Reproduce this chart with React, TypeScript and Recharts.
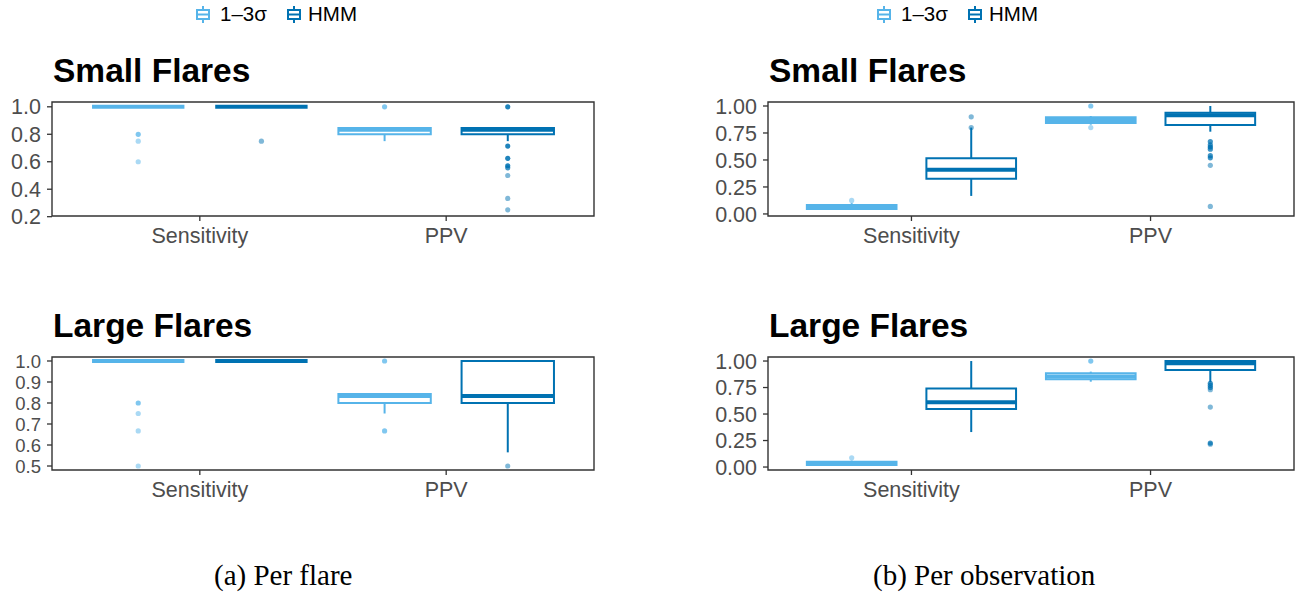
import React from "react";
import {
  ComposedChart,
  XAxis,
  YAxis,
  Scatter,
  ReferenceArea,
  ReferenceLine,
} from "recharts";

const categories = ["Sensitivity", "PPV"];
const methods = ["1–3σ", "HMM"];
const colors = ["#56B4E9", "#0072B2"];

// five-number summaries [min, q1, median, q3, max], one per category
const flareSmallSigma = [[1, 1, 1, 1, 1], [0.75, 0.8, 0.833, 0.846, 0.846]];
const flareSmallHmm = [[1, 1, 1, 1, 1], [0.75, 0.8, 0.833, 0.846, 0.846]];
// outliers as [value, count]
const flareSmallSigmaOut = [[[0.8, 2], [0.75, 1], [0.6, 1]], [[1, 2]]];
const flareSmallHmmOut = [
  [[0.75, 1]],
  [[1, 3], [0.714, 3], [0.625, 3], [0.571, 3], [0.556, 2], [0.5, 1], [0.333, 1], [0.25, 1]],
];

const flareLargeSigma = [[1, 1, 1, 1, 1], [0.75, 0.8, 0.833, 0.843, 0.843]];
const flareLargeHmm = [[1, 1, 1, 1, 1], [0.565, 0.8, 0.833, 1, 1]];
const flareLargeSigmaOut = [[[0.8, 2], [0.75, 1], [0.667, 1], [0.5, 1]], [[1, 2], [0.667, 2]]];
const flareLargeHmmOut = [[], [[0.5, 1]]];

const obsSmallSigma = [[0.04, 0.045, 0.065, 0.083, 0.1], [0.827, 0.843, 0.87, 0.895, 0.907]];
const obsSmallHmm = [[0.167, 0.327, 0.41, 0.516, 0.8], [0.762, 0.824, 0.914, 0.938, 1]];
const obsSmallSigmaOut = [[[0.125, 1]], [[1, 2], [0.8, 1]]];
const obsSmallHmmOut = [
  [[0.9, 1], [0.8, 1]],
  [[0.67, 2], [0.64, 2], [0.62, 3], [0.6, 2], [0.54, 2], [0.52, 2], [0.45, 1], [0.07, 1]],
];

const obsLargeSigma = [[0.012, 0.02, 0.035, 0.05, 0.06], [0.805, 0.827, 0.855, 0.884, 0.9]];
const obsLargeHmm = [[0.33, 0.547, 0.61, 0.742, 1], [0.8, 0.915, 0.98, 1, 1]];
const obsLargeSigmaOut = [[[0.087, 1]], [[1, 2]]];
const obsLargeHmmOut = [
  [],
  [[0.79, 2], [0.77, 2], [0.75, 2], [0.73, 1], [0.566, 1], [0.226, 2], [0.215, 1]],
];

const flareSmallTicks = [0.2, 0.4, 0.6, 0.8, 1.0];
const flareLargeTicks = [0.5, 0.6, 0.7, 0.8, 0.9, 1.0];
const obsTicks = [0, 0.25, 0.5, 0.75, 1];

const FONT = '"Liberation Sans", Arial, Helvetica, sans-serif';
const DODGE = [-0.25, 0.25];
const HALF = 0.1875;
const X_DOMAIN: [number, number] = [0.4, 2.6];

function BoxPanel({ sigma, hmm, sigmaOut, hmmOut, domain, ticks, digits, left, top, yWidth, mb, yFont = 21.5 }: any) {
  const stats = [sigma, hmm];
  const outs = [sigmaOut, hmmOut];
  const marks: any[] = [];
  stats.forEach((series: number[][], m: number) =>
    series.forEach((s, c) => {
      const cx = c + 1 + DODGE[m];
      const [lo, q1, med, q3, hi] = s;
      const k = `${m}-${c}`;
      marks.push(
        <ReferenceLine key={`wl${k}`} segment={[{ x: cx, y: lo }, { x: cx, y: q1 }]} stroke={colors[m]} strokeWidth={2} />,
        <ReferenceLine key={`wh${k}`} segment={[{ x: cx, y: q3 }, { x: cx, y: hi }]} stroke={colors[m]} strokeWidth={2} />,
        <ReferenceArea key={`b${k}`} x1={cx - HALF} x2={cx + HALF} y1={q1} y2={q3} fill="#ffffff" fillOpacity={1} stroke={colors[m]} strokeWidth={2} />,
        <ReferenceLine key={`m${k}`} segment={[{ x: cx - HALF, y: med }, { x: cx + HALF, y: med }]} stroke={colors[m]} strokeWidth={4} />
      );
    })
  );
  const tick = { fontSize: 21.5, fill: "#4D4D4D", fontFamily: FONT };
  return (
    <div style={{ position: "absolute", left, top }}>
      <ComposedChart width={620} height={170} margin={{ top: 12, right: 26, bottom: mb, left: 0 }}>
        <XAxis
          type="number"
          dataKey="x"
          domain={X_DOMAIN}
          ticks={[1, 2]}
          interval={0}
          allowDataOverflow
          tickFormatter={(v: number) => categories[v - 1]}
          axisLine={false}
          tickLine={{ stroke: "#333333", strokeWidth: 1.3 }}
          tickSize={5}
          tickMargin={7}
          height={30}
          tick={tick}
        />
        <YAxis
          type="number"
          dataKey="y"
          domain={domain}
          ticks={ticks}
          interval={0}
          allowDataOverflow
          tickFormatter={(v: number) => v.toFixed(digits)}
          axisLine={false}
          tickLine={{ stroke: "#333333", strokeWidth: 1.3 }}
          tickSize={5}
          tickMargin={6}
          width={yWidth}
          tick={{ ...tick, fontSize: yFont }}
        />
        {marks}
        {outs.map((series: number[][][], m: number) => (
          <Scatter
            key={`o${m}`}
            name={methods[m]}
            data={series.flatMap((list, c) => list.map(([v, n]) => ({ x: c + 1 + DODGE[m], y: v, n })))}
            isAnimationActive={false}
            shape={(p: any) => (
              <circle cx={p.cx} cy={p.cy} r={2.6} fill={colors[m]} fillOpacity={1 - Math.pow(0.5, p.payload.n)} />
            )}
          />
        ))}
        <ReferenceArea
          x1={X_DOMAIN[0]}
          x2={X_DOMAIN[1]}
          y1={domain[0]}
          y2={domain[1]}
          fill="none"
          stroke="#333333"
          strokeWidth={1.4}
        />
      </ComposedChart>
    </div>
  );
}

function LegendKey({ x, color }: { x: number; color: string }) {
  const c = x + 7;
  return (
    <g stroke={color} strokeWidth={2} fill="#ffffff">
      <line x1={c} x2={c} y1={6} y2={10} />
      <rect x={x + 1} y={10} width={12} height={9} />
      <line x1={x + 1} x2={x + 13} y1={14.5} y2={14.5} />
      <line x1={c} x2={c} y1={19} y2={23} />
    </g>
  );
}

function Legend({ x }: { x: number }) {
  return (
    <g fontFamily={FONT} fontSize={20.5} fill="#000000">
      <LegendKey x={x} color={colors[0]} />
      <text x={x + 24} y={21} stroke="none" fill="#000">{methods[0]}</text>
      <LegendKey x={x + 91} color={colors[1]} />
      <text x={x + 112} y={21} stroke="none" fill="#000">{methods[1]}</text>
    </g>
  );
}

export default function App() {
  return (
    <div style={{ position: "absolute", left: 0, top: 0, width: 1308, height: 594, background: "#fff", overflow: "hidden" }}>
      <BoxPanel sigma={flareSmallSigma} hmm={flareSmallHmm} sigmaOut={flareSmallSigmaOut} hmmOut={flareSmallHmmOut}
        domain={[0.205, 1.035]} ticks={flareSmallTicks} digits={1} left={0} top={90} yWidth={52} mb={14} />
      <BoxPanel sigma={flareLargeSigma} hmm={flareLargeHmm} sigmaOut={flareLargeSigmaOut} hmmOut={flareLargeHmmOut}
        domain={[0.481, 1.019]} ticks={flareLargeTicks} digits={1} left={0} top={345} yWidth={52} mb={15} yFont={18.5} />
      <BoxPanel sigma={obsSmallSigma} hmm={obsSmallHmm} sigmaOut={obsSmallSigmaOut} hmmOut={obsSmallHmmOut}
        domain={[-0.019, 1.037]} ticks={obsTicks} digits={2} left={700} top={90} yWidth={68} mb={14} />
      <BoxPanel sigma={obsLargeSigma} hmm={obsLargeHmm} sigmaOut={obsLargeSigmaOut} hmmOut={obsLargeHmmOut}
        domain={[-0.028, 1.038]} ticks={obsTicks} digits={2} left={700} top={345} yWidth={68} mb={15} />
      <svg width={1308} height={594} style={{ position: "absolute", left: 0, top: 0, pointerEvents: "none" }}>
        <Legend x={196} />
        <Legend x={877} />
        <g fontFamily={FONT} fontSize={33.5} fontWeight="bold" fill="#000">
          <text x={53} y={82}>Small Flares</text>
          <text x={53} y={337}>Large Flares</text>
          <text x={769} y={82}>Small Flares</text>
          <text x={769} y={337}>Large Flares</text>
        </g>
        <g fontFamily='"Liberation Serif", "Times New Roman", serif' fontSize={29} fill="#000">
          <text x={214} y={585}>(a) Per flare</text>
          <text x={873} y={585}>(b) Per observation</text>
        </g>
      </svg>
    </div>
  );
}
